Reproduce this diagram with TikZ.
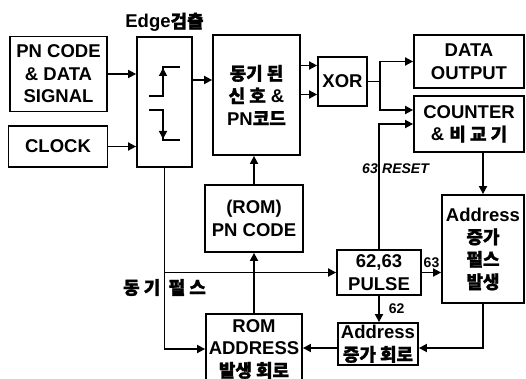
\documentclass[tikz,border=0pt]{standalone}
\usepackage{fontspec}
\setmainfont{Liberation Sans}
\newfontfamily\kr{Noto Sans CJK KR}[Scale=0.97, BoldFeatures={FakeBold=1.5}]
\usetikzlibrary{positioning, arrows.meta, calc}

\newcommand{\ko}[1]{{\kr #1}}

\begin{document}
\begin{tikzpicture}[
    x=1pt, y=-1pt,
    font=\bfseries\fontsize{18.5}{22.5}\selectfont,
    >={Triangle[length=8pt, width=8pt]},
    % --- node styles ---
    blk/.style  ={draw, line width=1.8pt, align=center, inner sep=1pt},
    lbl/.style  ={inner sep=1pt},
    small/.style={inner sep=1pt, font=\bfseries\fontsize{14}{16}\selectfont},
    % --- wire styles ---
    wire/.style ={line width=1.7pt},
    sig/.style  ={->, wire},
]
\clip (0,0) rectangle (526,379);

% =============== input column ===============
\node[blk, minimum width=97pt, minimum height=75pt] (pn) at (58.5,74)
      {PN CODE\\ \& DATA\\ SIGNAL};
\node[blk, minimum width=99pt, minimum height=41pt] (clk) at (58,146.5) {CLOCK};

% =============== edge detector ===============
\node[blk, minimum width=55pt, minimum height=130pt] (edge) at (164.5,102) {};
\node[lbl, above=3pt of edge] (edgelbl) {Edge\ko{검출}};
\begin{scope}[shift={(edge.center)}, wire]
  \draw (-15.5,-6) -- (-1.5,-6) -- (-1.5,-35) -- (15.5,-35);
  \draw[->] (-1.5,-6) -- (-1.5,-34);
  \draw (-15.5,8) -- (-1.5,8) -- (-1.5,38) -- (15.5,38);
  \draw[->] (-1.5,8) -- (-1.5,37);
\end{scope}

% =============== middle column ===============
\node[blk, minimum width=87pt, minimum height=120pt] (sync) at (256.5,95)
      {\ko{동기 된}\\ \ko{신 호} \&\\ PN\ko{코드}};
\node[blk, minimum width=49pt, minimum height=49pt] (xor) at (342.5,81.5) {XOR};
\node[blk, minimum width=98pt, minimum height=67pt] (rompn) at (254,218.5)
      {(ROM)\\ PN CODE};
\node[blk, minimum width=96pt, minimum height=70pt] (romaddr) at (254,349)
      {ROM\\ ADDRESS\\ \ko{발생 회로}};

% =============== right column ===============
\node[blk, minimum width=110pt, minimum height=53pt] (dout) at (469,61.5)
      {DATA\\ OUTPUT};
\node[blk, minimum width=110pt, minimum height=56pt] (cnt) at (469,124)
      {COUNTER\\ \& \ko{비 교 기}};
\node[blk, minimum width=82pt, minimum height=108pt] (incp) at (483,249)
      {Address\\ \ko{증가}\\ \ko{펄스}\\ \ko{발생}};
\node[blk, minimum width=84pt, minimum height=45pt] (pulse) at (379,272.5)
      {62,63\\ PULSE};
\node[blk, minimum width=80pt, minimum height=42pt] (inc) at (378,344)
      {Address\\ \ko{증가 회로}};

% =============== wires ===============
\draw[sig] (pn.east) -- (pn.east -| edge.west);
\draw[sig] (clk.east) -- (clk.east -| edge.west);
\coordinate (e1) at ([yshift=22pt]edge.east);
\draw[sig] (e1) -- (e1 -| sync.west);
\coordinate (x1) at ([yshift=16pt]xor.west);
\coordinate (x2) at ([yshift=-13pt]xor.west);
\draw[sig] (x1 -| sync.east) -- (x1);
\draw[sig] (x2 -| sync.east) -- (x2);
\draw[sig] (xor.east) -- ++(12,0) |- (dout.west);
\draw[sig] (xor.east) -- ++(12,0) |- ([yshift=14pt]cnt.west);
\draw[sig] (pulse.north) |- (cnt.west);
\coordinate (rst) at ($(pulse.north)!0.64!(pulse.north |- cnt.west)$);
\node[small, font=\bfseries\itshape\fontsize{14}{16}\selectfont, left=0pt of rst] (rst63) {63};
\node[small, font=\bfseries\itshape\fontsize{14}{16}\selectfont, right=2pt of rst] (rstlbl) {RESET};
\draw[sig] (incp.north |- cnt.south) -- (incp.north);
\draw[sig] (pulse.east) -- (pulse.east -| incp.west)
      node[small, midway, above=3pt] (lbl63) {63};
\draw[sig] (pulse.south) -- (pulse.south |- inc.north)
      node[small, midway, right=8pt] (lbl62) {62};
\draw[sig] (incp.south) |- ([yshift=-4pt]inc.east);
\draw[sig] ([yshift=-4pt]inc.west) -- ([yshift=-4pt]inc.west -| romaddr.east);
\draw[sig] (edge.south) |- (romaddr.west);
\draw[sig] (edge.south |- pulse.west) -- (pulse.west);
\coordinate (sp) at ($(edge.south |- pulse.west)+(0,15)$);
\node[lbl, left=3pt of sp] (sp1) {\ko{동 기}};
\node[lbl, right=3pt of sp] (sp2) {\ko{펄 스}};
\draw[sig] (romaddr.north) -- (rompn.south);
\draw[sig] (rompn.north) -- (rompn.north |- sync.south);

\end{tikzpicture}
\end{document}
